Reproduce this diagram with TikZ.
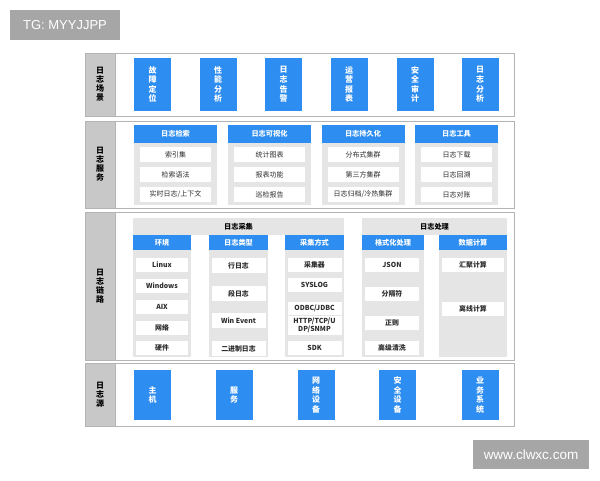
\documentclass[tikz,border=0pt]{standalone}
\usepackage{fontspec}
\setmainfont{Noto Sans CJK SC}
\newfontfamily\latinsans{Liberation Sans}
\definecolor{bluebg}{RGB}{45,141,240}
\definecolor{labgray}{RGB}{200,200,200}
\definecolor{grpgray}{RGB}{229,229,229}
\definecolor{framegray}{RGB}{180,180,180}
\definecolor{txt}{RGB}{45,45,45}
\definecolor{tagbg}{RGB}{166,166,166}
\tikzset{
  box/.style={rectangle, inner sep=0pt, outer sep=0pt, anchor=north west},
  frame/.style={box, draw=framegray, line width=0.8pt, fill=white},
  labcol/.style={box, draw=framegray, line width=0.8pt, fill=labgray, font=\bfseries\fontsize{8}{9}\selectfont, text=black, align=center},
  bluebox/.style={box, fill=bluebg, text=white, font=\bfseries\fontsize{8}{9.6}\selectfont, align=center},
  grp/.style={box, fill=grpgray},
  hdr/.style={box, fill=bluebg, text=white, font=\bfseries\fontsize{7.2}{8}\selectfont},
  item/.style={box, fill=white, text=txt, font=\fontsize{7}{7.5}\selectfont, align=center},
  itemb/.style={box, fill=white, text=txt, font=\bfseries\fontsize{6.9}{7.6}\selectfont, align=center},
  graybar/.style={box, fill=grpgray, text=black, font=\bfseries\fontsize{7.2}{8}\selectfont},
  tag/.style={box, fill=tagbg, text=white, font=\latinsans\fontsize{13}{14}\selectfont},
}
\begin{document}
\begin{tikzpicture}[x=1pt,y=-1pt]
\useasboundingbox (0,0) rectangle (600,480);
% tags
\node[tag, minimum width=110pt, minimum height=30pt] (tg) at (10,10) {TG: MYYJJPP};
\node[tag, minimum width=116pt, minimum height=29pt, font=\latinsans\fontsize{13.5}{14}\selectfont] (www) at (473,440) {www.clwxc.com};

% ===== Row 1: 日志场景 =====
\node[frame, minimum width=429pt, minimum height=63pt] (f1) at (85,53) {};
\node[labcol, minimum width=30pt, minimum height=63pt] (l1) at (85,53) {日\\志\\场\\景};
\foreach \cx/\t [count=\i] in {152.5/故\\障\\定\\位, 218/性\\能\\分\\析, 283.5/日\\志\\告\\警, 349/运\\营\\报\\表, 415/安\\全\\审\\计, 480/日\\志\\分\\析}
  \node[bluebox, anchor=center, minimum width=37pt, minimum height=53pt] (s\i) at (\cx,84.5) {\t};

% ===== Row 2: 日志服务 =====
\node[frame, minimum width=429pt, minimum height=87pt] (f2) at (85,121) {};
\node[labcol, minimum width=30pt, minimum height=87pt] (l2) at (85,121) {日\\志\\服\\务};
\foreach \x/\h/\a/\b/\c [count=\i] in {
  134/日志检索/索引集/检索语法/{实时日志/上下文},
  228/日志可视化/统计图表/报表功能/巡检报告,
  321.5/日志持久化/分布式集群/第三方集群/{日志归档/冷热集群},
  415/日志工具/日志下载/日志回溯/日志对账}{
  \node[grp, minimum width=83pt, minimum height=80pt] (g\i) at (\x,125) {};
  \node[hdr, minimum width=83pt, minimum height=18pt] (h\i) at (\x,125) {\h};
  \node[item, minimum width=71pt, minimum height=15pt] (a\i) at (\x+6,147) {\a};
  \node[item, minimum width=71pt, minimum height=15pt] (b\i) at (\x+6,167) {\b};
  \node[item, minimum width=71pt, minimum height=15pt] (c\i) at (\x+6,187) {\c};
}

% ===== Row 3: 日志链路 =====
\node[frame, minimum width=429pt, minimum height=148pt] (f3) at (85,212) {};
\node[labcol, minimum width=30pt, minimum height=148pt] (l3) at (85,212) {日\\志\\链\\路};
% 日志采集
\node[graybar, minimum width=211pt, minimum height=17pt] (cj) at (133,218) {日志采集};
\node[grp, minimum width=58pt, minimum height=122pt] (k1) at (133,235) {};
\node[grp, minimum width=59pt, minimum height=122pt] (k2) at (209,235) {};
\node[grp, minimum width=59pt, minimum height=122pt] (k3) at (285,235) {};
\node[hdr, minimum width=58pt, minimum height=15pt] (kh1) at (133,235) {环境};
\node[hdr, minimum width=59pt, minimum height=15pt] (kh2) at (209,235) {日志类型};
\node[hdr, minimum width=59pt, minimum height=15pt] (kh3) at (285,235) {采集方式};
\foreach \y/\t [count=\i] in {258/Linux, 279/Windows, 300/AIX, 321/网络, 341/硬件}
  \node[itemb, minimum width=52pt, minimum height=14pt] (e\i) at (136,\y) {\t};
\foreach \y/\t [count=\i] in {258/行日志, 286/段日志, 313/Win Event, 341/二进制日志}
  \node[itemb, minimum width=54pt, minimum height=15pt] (t\i) at (211.5,\y) {\t};
\node[itemb, minimum width=54pt, minimum height=14pt] (m1) at (287.5,258) {采集器};
\node[itemb, minimum width=54pt, minimum height=14pt] (m2) at (287.5,278) {SYSLOG};
\node[itemb, minimum width=54pt, minimum height=13pt] (m3) at (287.5,301.5) {ODBC/JDBC};
\node[itemb, minimum width=54pt, minimum height=19pt] (m4) at (287.5,316) {HTTP/TCP/U\\DP/SNMP};
\node[itemb, minimum width=54pt, minimum height=14pt] (m5) at (287.5,341) {SDK};
% 日志处理
\node[graybar, minimum width=145pt, minimum height=17pt] (cl) at (362,218) {日志处理};
\node[grp, minimum width=62pt, minimum height=122pt] (p1) at (362,235) {};
\node[grp, minimum width=68pt, minimum height=122pt] (p2) at (439,235) {};
\node[hdr, minimum width=62pt, minimum height=15pt] (ph1) at (362,235) {格式化处理};
\node[hdr, minimum width=68pt, minimum height=15pt] (ph2) at (439,235) {数据计算};
\foreach \y/\t [count=\i] in {258/JSON, 287/分隔符, 316/正则, 341/高级清洗}
  \node[itemb, minimum width=54pt, minimum height=14pt] (q\i) at (365,\y) {\t};
\node[itemb, minimum width=62pt, minimum height=14pt] (r1) at (442,258) {汇聚计算};
\node[itemb, minimum width=62pt, minimum height=14pt] (r2) at (442,301.5) {离线计算};

% ===== Row 4: 日志源 =====
\node[frame, minimum width=429pt, minimum height=63pt] (f4) at (85,363) {};
\node[labcol, minimum width=30pt, minimum height=63pt] (l4) at (85,363) {日\\志\\源};
\foreach \cx/\t [count=\i] in {152.5/主\\机, 234/服\\务, 316/网\\络\\设\\备, 397.5/安\\全\\设\\备, 480/业\\务\\系\\统}
  \node[bluebox, anchor=center, minimum width=37pt, minimum height=50pt] (o\i) at (\cx,395) {\t};
\end{tikzpicture}
\end{document}
